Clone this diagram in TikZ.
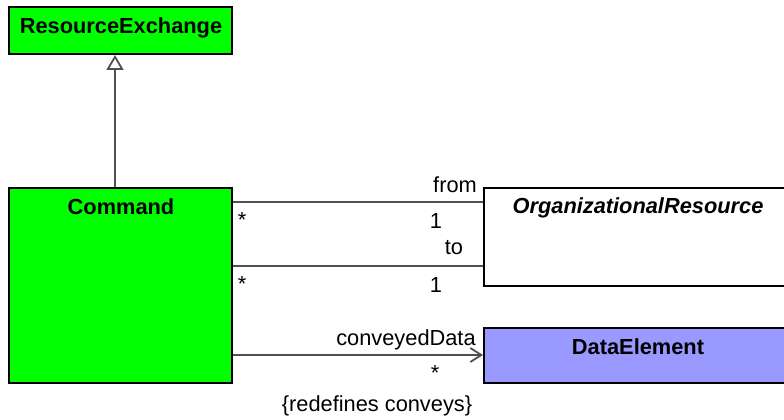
\documentclass[tikz,border=0pt]{standalone}
\usepackage{fontspec}
\setmainfont{Liberation Sans}
\usetikzlibrary{arrows.meta}
\definecolor{umlgreen}{RGB}{0,255,0}
\definecolor{umlblue}{RGB}{153,153,255}
\definecolor{linegray}{RGB}{80,80,80}
\tikzset{
  umlbox/.style={draw=black, line width=2pt, inner sep=0pt},
  txt/.style={inner sep=0pt, anchor=base, font=\fontsize{21.8}{26}\selectfont},
  title/.style={txt, font=\fontsize{21.8}{26}\selectfont\bfseries},
  assoc/.style={draw=linegray, line width=1.8pt},
  gen/.style={assoc, -{Triangle[open, length=15pt, width=17pt, fill=white]}},
  nav/.style={assoc, -{Straight Barb[length=11pt, width=14pt, line width=1.8pt]}}
}
\begin{document}
\begin{tikzpicture}[x=1pt, y=-1pt]
\useasboundingbox (0,0) rectangle (784,420);
\clip (0,0) rectangle (784,420);
\fill[white] (0,0) rectangle (784,420);
% boxes
\node[umlbox, fill=umlgreen, minimum width=223pt, minimum height=47pt] (re) at (120.5,30.5) {};
\node[umlbox, fill=umlgreen, minimum width=223pt, minimum height=195pt] (cmd) at (120.5,285.5) {};
\node[umlbox, fill=white, minimum width=308pt, minimum height=98pt] (org) at (638,237) {};
\node[umlbox, fill=umlblue, minimum width=308pt, minimum height=55pt] (de) at (638,355.5) {};
% titles
\node[title] (ret) at (121,34) {ResourceExchange};
\node[title] (cmdt) at (121,214) {Command};
\node[title, font=\fontsize{21.8}{26}\selectfont\bfseries\itshape] (orgt) at (638,213) {OrganizationalResource};
\node[title] (det) at (638,354) {DataElement};
% connectors
\coordinate (gx) at (115,0);
\draw[gen] (cmd.north -| gx) -- (re.south -| gx);
\coordinate (fy) at (0,202);
\coordinate (ty) at (0,266);
\coordinate (cy) at (0,355);
\draw[assoc] (cmd.east |- fy) -- (org.west |- fy);
\draw[assoc] (cmd.east |- ty) -- (org.west |- ty);
\draw[nav] (cmd.east |- cy) -- (de.west |- cy);
% labels
\node[txt] (lfrom) at (455,192) {from};
\node[txt] (s1) at (242,227) {*};
\node[txt] (o1) at (436,228) {1};
\node[txt] (lto) at (454,254) {to};
\node[txt] (s2) at (242,291) {*};
\node[txt] (o2) at (436,292) {1};
\node[txt] (lcd) at (406,345) {conveyedData};
\node[txt] (s3) at (435,380) {*};
\node[txt] (lred) at (377,411) {\{redefines conveys\}};
\end{tikzpicture}
\end{document}
